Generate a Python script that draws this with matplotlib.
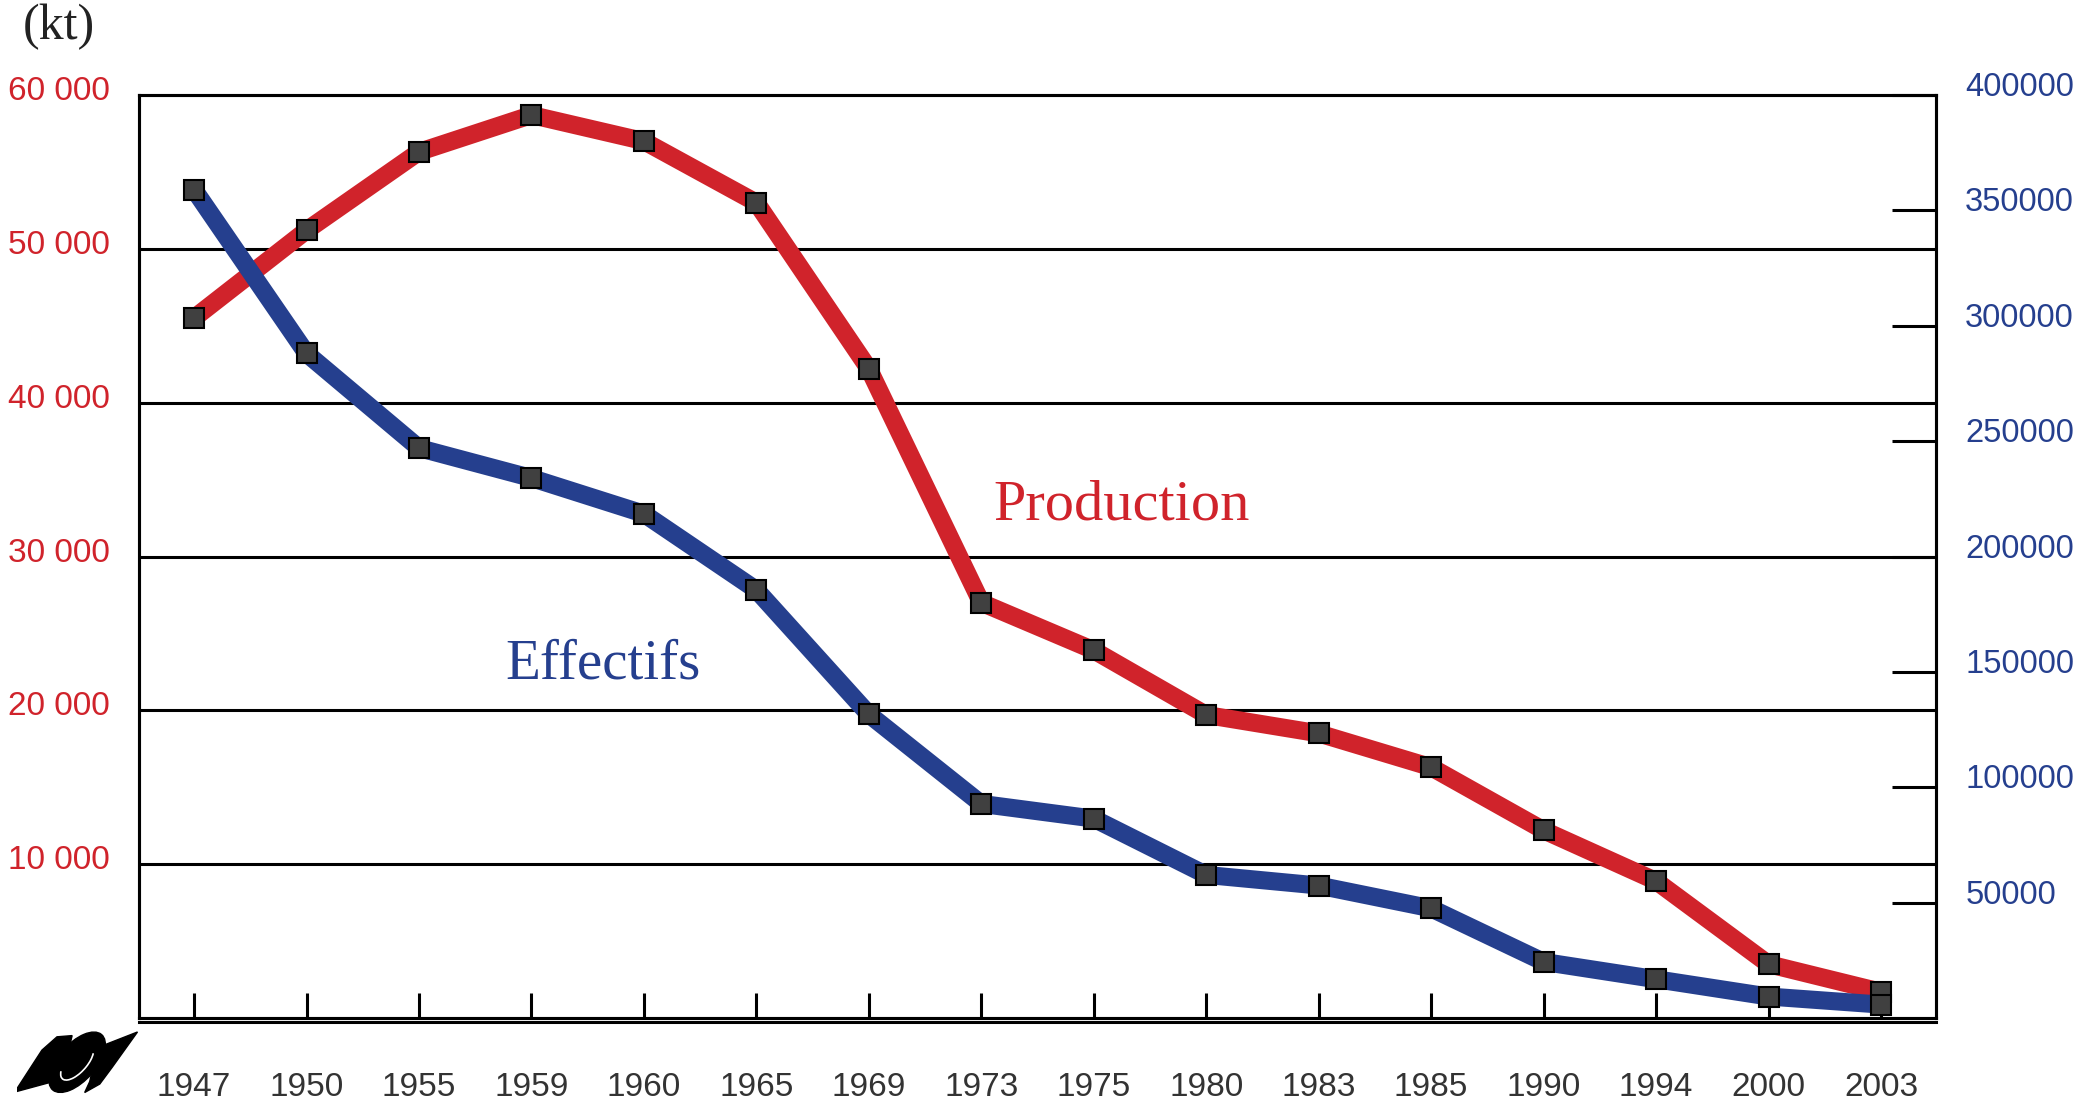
import matplotlib
matplotlib.use('Agg')
import matplotlib.pyplot as plt
import matplotlib.transforms as mtransforms
from matplotlib.patches import Ellipse, Polygon, Arc
from matplotlib.lines import Line2D

years = ["1947", "1950", "1955", "1959", "1960", "1965", "1969", "1973",
         "1975", "1980", "1983", "1985", "1990", "1994", "2000", "2003"]
production = [45500, 51200, 56300, 58700, 57000, 53000, 42200, 27000,
              23900, 19700, 18500, 16300, 12200, 8900, 3500, 1700]
effectifs = [359000, 288000, 247000, 234000, 218500, 185500, 131600, 92800,
             86400, 62000, 57400, 47500, 24300, 16800, 9300, 5800]
left_ticks = [10000, 20000, 30000, 40000, 50000, 60000]
left_labels = ["10 000", "20 000", "30 000", "40 000", "50 000", "60 000"]
right_ticks = [50000, 100000, 150000, 200000, 250000, 300000, 350000, 400000]

RED = "#d0232b"
BLUE = "#253f8e"
MARK = "#404040"
sans = "Liberation Sans"
serif = "Liberation Serif"

fig = plt.figure(figsize=(20.96, 11.01), dpi=100)
ax = fig.add_axes([0.0663, 0.0754, 0.8574, 0.8383])
ax2 = ax.twinx()

x = list(range(len(years)))

ax.plot(x, production, color=RED, lw=13, solid_capstyle='butt', zorder=3,
        marker='s', ms=14, mfc=MARK, mec='black', mew=1.5)
ax2.plot(x, effectifs, color=BLUE, lw=13, solid_capstyle='butt', zorder=3,
         marker='s', ms=14, mfc=MARK, mec='black', mew=1.5)

ax.set_xlim(-0.49, 15.49)
ax.set_ylim(0, 60000)
ax2.set_ylim(0, 400000)

# horizontal grid on the left axis
for v in left_ticks[:-1]:
    ax.axhline(v, color='black', lw=2.2, zorder=1)

for sp in ax.spines.values():
    sp.set_linewidth(2.2)
for sp in ax2.spines.values():
    sp.set_linewidth(2.2)

# double bottom line
ax.add_line(Line2D([0, 1], [-0.0045, -0.0045], transform=ax.transAxes,
                   color='black', lw=2.2, clip_on=False))

ax.set_xticks(x)
ax.set_xticklabels(years, fontfamily=sans, fontsize=24, color='#333333')
ax.tick_params(axis='x', direction='in', length=18, width=2.2, pad=39)

ax.set_yticks(left_ticks)
ax.set_yticklabels(left_labels, fontfamily=sans, fontsize=24, color=RED)
ax.tick_params(axis='y', length=0, pad=21)

ax2.set_yticks(right_ticks)
ax2.set_yticklabels([str(v) for v in right_ticks], fontfamily=sans,
                    fontsize=23.5, color=BLUE)
ax2.tick_params(axis='y', direction='in', length=32, width=2.2, pad=21)
ax2.tick_params(axis='x', length=0)

# labels sit a little above their ticks
up_l = mtransforms.ScaledTranslation(0, 7 / 100, fig.dpi_scale_trans)
up_r = mtransforms.ScaledTranslation(0, 11 / 100, fig.dpi_scale_trans)
for lab in ax.get_yticklabels():
    lab.set_transform(lab.get_transform() + up_l)
for lab in ax2.get_yticklabels():
    lab.set_transform(lab.get_transform() + up_r)

ax.text(8.25, 33300, "Production", fontfamily=serif, fontsize=42,
        color=RED, ha='center', va='center')
ax.text(3.64, 22960, "Effectifs", fontfamily=serif, fontsize=41,
        color=BLUE, ha='center', va='center')

fig.text(0.011, 0.976, "(kt)", fontfamily=serif, fontsize=36,
         color='#222222', ha='left', va='center')

# logo (rough)
logo = fig.add_axes([0.008, 0.0, 0.06, 0.066])
logo.set_xlim(0, 100)
logo.set_ylim(0, 60)
logo.axis('off')
logo.add_patch(Ellipse((48, 32), 60, 30, angle=50, color='black'))
logo.add_patch(Polygon([[-1.6, 7.4], [10, 26], [20, 42], [32, 53],
                        [44, 54], [36, 18]], color='black'))
logo.add_patch(Polygon([[96, 57], [64, 44], [58, 16], [54, 7],
                        [66, 14], [76, 28]], color='black'))
logo.add_patch(Arc((48, 32), 36, 16, angle=50, theta1=160, theta2=340,
                   color='white', lw=1.2))

fig.savefig("out.png", dpi=100)
